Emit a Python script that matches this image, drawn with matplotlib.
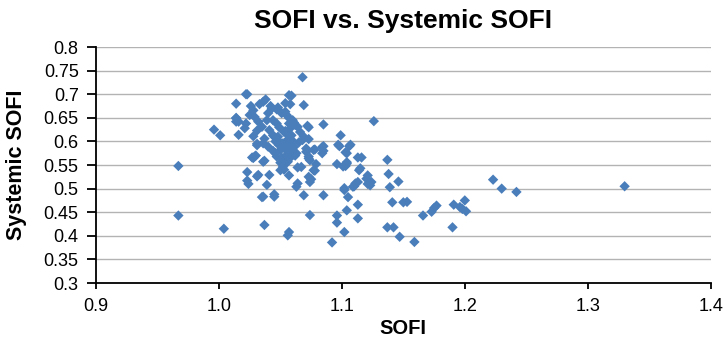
import matplotlib
matplotlib.use("Agg")
import matplotlib.pyplot as plt

# SOFI (x) and Systemic SOFI (y)
sofi = [
  0.967, 0.967, 1.004, 0.996, 1.001, 1.023, 1.014, 1.014, 1.014, 1.016,
  1.023, 1.023, 1.024, 1.027, 1.030, 1.031, 1.032, 1.035, 1.037, 1.037,
  1.039, 1.041, 1.045, 1.057, 1.056, 1.057, 1.053, 1.068, 1.069, 1.059,
  1.064, 1.069, 1.074, 1.074, 1.075, 1.078, 1.079, 1.085, 1.085, 1.085,
  1.085, 1.078, 1.073, 1.073, 1.072, 1.092, 1.099, 1.097, 1.096, 1.096,
  1.096, 1.102, 1.103, 1.104, 1.103, 1.105, 1.104, 1.102, 1.107, 1.110,
  1.113, 1.116, 1.113, 1.113, 1.113, 1.115, 1.121, 1.121, 1.124, 1.126,
  1.137, 1.138, 1.139, 1.141, 1.137, 1.142, 1.146, 1.147, 1.150, 1.153,
  1.159, 1.166, 1.173, 1.175, 1.177, 1.190, 1.191, 1.196, 1.198, 1.200,
  1.201, 1.223, 1.230, 1.242, 1.330,
  1.022, 1.038, 1.036, 1.033, 1.057, 1.054, 1.058, 1.043, 1.047, 1.050,
  1.054, 1.055, 1.028, 1.025, 1.029, 1.014, 1.016, 1.022, 1.021, 1.032,
  1.035, 1.031, 1.028, 1.039, 1.044, 1.047, 1.049, 1.041, 1.044, 1.037,
  1.036, 1.040, 1.031, 1.060, 1.062, 1.058, 1.055, 1.059, 1.056, 1.060,
  1.052, 1.055, 1.059, 1.050, 1.047, 1.046, 1.055, 1.059, 1.063, 1.052,
  1.056, 1.064, 1.066, 1.073, 1.069, 1.068, 1.071, 1.071, 1.073, 1.077,
  1.074, 1.084, 1.084, 1.098, 1.106, 1.104, 1.029, 1.028, 1.036, 1.031,
  1.052, 1.054, 1.050, 1.067, 1.077, 1.073, 1.063, 1.064, 1.101, 1.104,
  1.114, 1.120, 1.123, 1.036, 1.045, 1.102, 1.109, 1.111, 1.042, 1.048,
  1.051, 1.057, 1.061, 1.053, 1.049, 1.058, 1.062, 1.045, 1.040, 1.026,
  1.046, 1.049, 1.053, 1.056, 1.060, 1.051, 1.055, 1.058, 1.044, 1.061,
  1.048, 1.054, 1.057, 1.050, 1.065,
]
systemic_sofi = [
  0.548, 0.443, 0.415, 0.625, 0.613, 0.700, 0.680, 0.650, 0.642, 0.614,
  0.535, 0.517, 0.510, 0.566, 0.570, 0.595, 0.529, 0.482, 0.559, 0.423,
  0.508, 0.529, 0.488, 0.408, 0.401, 0.528, 0.540, 0.736, 0.677, 0.697,
  0.545, 0.486, 0.444, 0.514, 0.520, 0.538, 0.552, 0.636, 0.590, 0.580,
  0.486, 0.583, 0.564, 0.605, 0.633, 0.386, 0.613, 0.593, 0.443, 0.428,
  0.552, 0.501, 0.548, 0.556, 0.577, 0.482, 0.454, 0.408, 0.593, 0.505,
  0.566, 0.566, 0.514, 0.466, 0.437, 0.543, 0.528, 0.510, 0.514, 0.643,
  0.561, 0.531, 0.503, 0.471, 0.418, 0.418, 0.515, 0.398, 0.471, 0.472,
  0.387, 0.443, 0.451, 0.459, 0.464, 0.418, 0.466, 0.461, 0.457, 0.475,
  0.452, 0.519, 0.500, 0.493, 0.505,
  0.700, 0.689, 0.684, 0.679, 0.698, 0.681, 0.679, 0.670, 0.668, 0.663,
  0.663, 0.656, 0.666, 0.656, 0.652, 0.649, 0.642, 0.638, 0.628, 0.642,
  0.631, 0.623, 0.611, 0.645, 0.645, 0.638, 0.630, 0.624, 0.613, 0.606,
  0.596, 0.589, 0.592, 0.645, 0.635, 0.628, 0.617, 0.613, 0.604, 0.601,
  0.596, 0.585, 0.582, 0.582, 0.568, 0.575, 0.571, 0.568, 0.575, 0.560,
  0.557, 0.631, 0.620, 0.630, 0.610, 0.603, 0.585, 0.578, 0.568, 0.582,
  0.560, 0.588, 0.575, 0.590, 0.590, 0.575, 0.568, 0.565, 0.557, 0.526,
  0.546, 0.553, 0.539, 0.546, 0.539, 0.525, 0.504, 0.511, 0.547, 0.553,
  0.539, 0.521, 0.507, 0.483, 0.483, 0.497, 0.504, 0.511, 0.675, 0.672,
  0.660, 0.650, 0.640, 0.620, 0.600, 0.590, 0.570, 0.610, 0.660, 0.675,
  0.600, 0.592, 0.588, 0.578, 0.572, 0.566, 0.563, 0.596, 0.580, 0.588,
  0.610, 0.622, 0.638, 0.555, 0.598,
]

X_TICKS = [0.9, 1.0, 1.1, 1.2, 1.3, 1.4]
X_TICK_LABELS = ["0.9", "1.0", "1.1", "1.2", "1.3", "1.4"]
Y_TICKS = [0.3, 0.35, 0.4, 0.45, 0.5, 0.55, 0.6, 0.65, 0.7, 0.75, 0.8]
Y_TICK_LABELS = ["0.3", "0.35", "0.4", "0.45", "0.5", "0.55", "0.6", "0.65", "0.7", "0.75", "0.8"]

plt.rcParams["font.family"] = ["Liberation Sans", "DejaVu Sans"]

fig = plt.figure(figsize=(7.24, 3.4), dpi=100)
ax = fig.add_axes([0.1326, 0.1676, 0.849, 0.694])

ax.scatter(sofi, systemic_sofi, marker="D", s=28, color="#4a7ebb",
           edgecolors="none", zorder=3, clip_on=False)

ax.set_xlim(0.9, 1.4)
ax.set_ylim(0.3, 0.8)
ax.set_xticks(X_TICKS)
ax.set_xticklabels(X_TICK_LABELS, fontsize=13)
ax.set_yticks(Y_TICKS)
ax.set_yticklabels(Y_TICK_LABELS, fontsize=13)

ax.grid(axis="y", color="#b3b3b3", linewidth=1.0, zorder=0)
ax.set_axisbelow(True)
for side in ["top", "right"]:
  ax.spines[side].set_visible(False)
for side in ["left", "bottom"]:
  ax.spines[side].set_color("black")
  ax.spines[side].set_linewidth(1.3)
ax.tick_params(axis="y", direction="out", length=6.5, width=1.3, colors="black", pad=6)
ax.tick_params(axis="x", direction="out", length=4.5, width=1.3, colors="black", pad=6)

ax.set_xlabel("SOFI", fontsize=14.5, fontweight="bold")
ax.xaxis.set_label_coords(0.5, -0.153)
ax.set_ylabel("Systemic SOFI", fontsize=15.5, fontweight="bold")
ax.yaxis.set_label_coords(-0.112, 0.5)
ax.set_title("SOFI vs. Systemic SOFI", fontsize=19, fontweight="bold", pad=13.5)

fig.savefig("out.png", dpi=100)
